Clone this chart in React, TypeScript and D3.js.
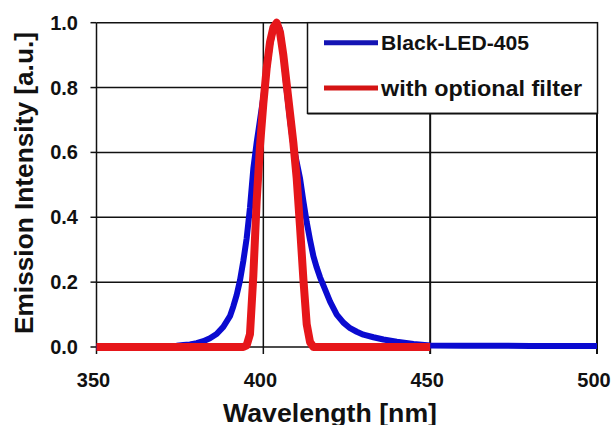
import React from "react";
import * as d3 from "d3";

const xTicks = [350, 400, 450, 500];
const yTicks = [0, 0.2, 0.4, 0.6, 0.8, 1.0];

const blueWavelength = [350, 360, 370, 374, 376, 378, 380, 382, 384, 386, 388, 390, 391, 392, 393, 394, 395, 396, 397, 398, 399, 400, 401, 402, 403, 404, 405, 406, 407, 408, 409, 410, 411, 412, 413, 414, 415, 416, 417, 418, 420, 422, 424, 426, 428, 430, 433, 436, 440, 445, 450, 460, 470, 480, 490, 500];
const blueIntensity = [0, 0, 0.002, 0.004, 0.006, 0.008, 0.012, 0.018, 0.027, 0.04, 0.062, 0.095, 0.125, 0.16, 0.205, 0.265, 0.335, 0.43, 0.55, 0.63, 0.7, 0.77, 0.85, 0.93, 0.98, 1.0, 0.98, 0.9, 0.79, 0.7, 0.62, 0.57, 0.52, 0.45, 0.385, 0.33, 0.28, 0.245, 0.215, 0.19, 0.14, 0.1, 0.075, 0.058, 0.047, 0.038, 0.03, 0.023, 0.016, 0.009, 0.005, 0.004, 0.004, 0.003, 0.003, 0.003];

const redWavelength = [350, 380, 394, 395, 396, 397, 398, 399, 400, 401, 402, 403, 404, 405, 406, 407, 408, 409, 410, 411, 412, 413, 414, 415, 430, 450];
const redIntensity = [0, 0, 0, 0.005, 0.04, 0.22, 0.45, 0.62, 0.75, 0.86, 0.94, 0.985, 1.0, 0.97, 0.9, 0.81, 0.72, 0.63, 0.52, 0.37, 0.21, 0.07, 0.015, 0, 0, 0];

const seriesNames = ["Black-LED-405", "with optional filter"];
const BLUE = "#0a0ad0";
const RED = "#e6161a";
const FONT = "'Liberation Sans', Arial, sans-serif";

export default function App() {
  const W = 614, H = 425;
  const x = d3.scaleLinear().domain([350, 500]).range([96.5, 597]);
  const y = d3.scaleLinear().domain([0, 1]).range([347, 22.7]);

  const line = d3.line<[number, number]>().x(d => x(d[0])).y(d => y(d[1]));
  const blueData = blueWavelength.map((w, i) => [w, blueIntensity[i]] as [number, number]);
  const redData = redWavelength.map((w, i) => [w, redIntensity[i]] as [number, number]);

  const legX = 307.5, legY = y(1), legW = 290, legH = 90.6;

  return (
    <svg width={W} height={H} style={{ position: "absolute", left: 0, top: 0, background: "#fff" }} fontFamily={FONT} fontWeight="bold">
      <rect x={0} y={0} width={W} height={H} fill="#fff" />
      {/* horizontal gridlines */}
      {yTicks.map(t => (
        <g key={"y" + t}>
          <line x1={x(350)} x2={x(500)} y1={y(t)} y2={y(t)} stroke="#111" strokeWidth={1.5} />
          <line x1={x(350) - 6} x2={x(350)} y1={y(t)} y2={y(t)} stroke="#111" strokeWidth={1.5} />
          <text x={78} y={y(t) + 7} textAnchor="end" fontSize={20} fill="#111">{t.toFixed(1)}</text>
        </g>
      ))}
      {/* vertical gridlines */}
      {xTicks.map(t => (
        <g key={"x" + t}>
          <line x1={x(t)} x2={x(t)} y1={y(1)} y2={y(0) + 7} stroke="#111" strokeWidth={t === 350 || t === 400 ? 1.5 : 2} />
          <text x={x(t) - 3} y={386.5} textAnchor="middle" fontSize={20} fill="#111">{t}</text>
        </g>
      ))}
      {/* curves */}
      <path d={line(blueData) || ""} fill="none" stroke={BLUE} strokeWidth={6} strokeLinejoin="round" />
      <path d={line(redData) || ""} fill="none" stroke={RED} strokeWidth={8} strokeLinejoin="round" />
      {/* legend */}
      <rect x={legX} y={legY} width={legW} height={legH} fill="#fff" stroke="#111" strokeWidth={1.5} />
      <line x1={legX} x2={legX + legW} y1={legY + legH + 0.5} y2={legY + legH + 0.5} stroke="#111" strokeWidth={1.5} />
      <line x1={324} x2={378} y1={42.7} y2={42.7} stroke="#1414b4" strokeWidth={5} />
      <text x={381} y={50} fontSize={21} fill="#111" textLength={148} lengthAdjust="spacingAndGlyphs">{seriesNames[0]}</text>
      <line x1={324} x2={378} y1={88} y2={88} stroke="#d41414" strokeWidth={5} />
      <text x={381} y={95.5} fontSize={22} fill="#111" textLength={201} lengthAdjust="spacingAndGlyphs">{seriesNames[1]}</text>
      {/* axis titles */}
      <text transform="translate(33,183) rotate(-90)" textAnchor="middle" fontSize={26} fill="#111" textLength={302} lengthAdjust="spacingAndGlyphs">Emission Intensity [a.u.]</text>
      <text x={330} y={422} textAnchor="middle" fontSize={26} fill="#111" textLength={214} lengthAdjust="spacingAndGlyphs">Wavelength [nm]</text>
    </svg>
  );
}
